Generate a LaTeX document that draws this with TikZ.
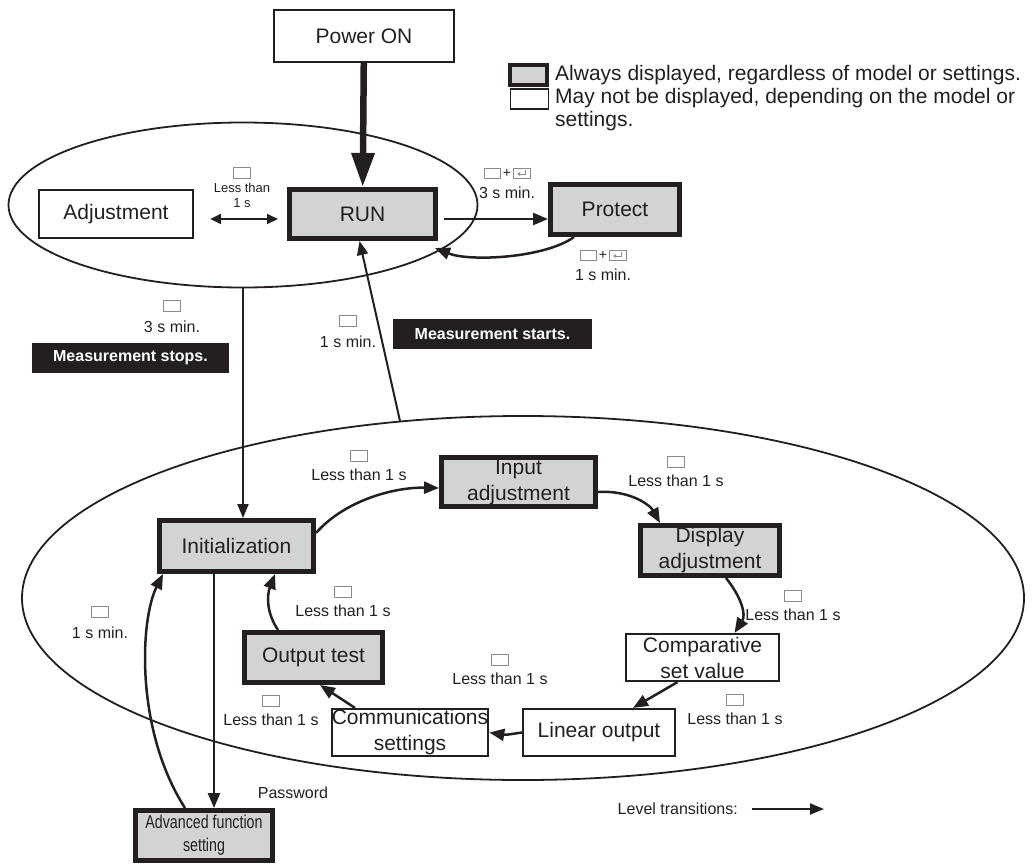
\documentclass[tikz,border=0pt]{standalone}
\usepackage{fontspec}
\setmainfont{Liberation Sans}
\newfontfamily\narrowfont[FakeStretch=0.77]{Liberation Sans}
\usetikzlibrary{positioning,arrows.meta,shapes.geometric}
\definecolor{InkDark}{HTML}{231F20}
\definecolor{PanelGray}{HTML}{D1D3D4}
\definecolor{KeyGray}{HTML}{8A8A8A}

\begin{document}
\begin{tikzpicture}[x=1pt,y=-1pt,
  every node/.style={text=InkDark},
  AL/.style={draw=InkDark, fill=PanelGray, line width=5pt, inner sep=0pt,
             align=center, font=\fontsize{21}{26}\selectfont},
  MB/.style={draw=InkDark, fill=white, line width=2.2pt, inner sep=0pt,
             align=center, font=\fontsize{21}{26}\selectfont},
  lvl/.style={draw=InkDark, ellipse, line width=1.8pt, inner sep=0pt},
  kbox/.style={draw=KeyGray, line width=0.9pt, minimum width=17pt,
               minimum height=11pt, inner sep=0pt},
  tm/.style={font=\fontsize{16}{18}\selectfont, inner sep=0pt},
  tag/.style={fill=InkDark, text=white, font=\fontsize{16}{18}\selectfont\bfseries,
              minimum width=197pt, minimum height=30pt, inner sep=0pt},
  ar/.style={draw=InkDark, line width=2.5pt, -{Triangle[length=15pt,width=12pt]}},
  ln/.style={draw=InkDark, line width=2pt, -{Triangle[length=14pt,width=11pt]}},
  keys/.pic={
    \draw[KeyGray, line width=0.9pt] (-23,-5) rectangle (-7,5);
    \node[font=\fontsize{14}{14}\selectfont, inner sep=0pt] (plus) at (0,0.5) {+};
    \draw[KeyGray, line width=0.9pt] (6,-5) rectangle (23,5);
    \draw[KeyGray, line width=0.8pt, -{Latex[length=3pt,width=4pt]}]
      (18,-3) -- (18,1) -- (10,1);
  },
]
  \useasboundingbox (0,0) rectangle (1035,864);

  % levels
  \node[lvl, minimum width=469pt, minimum height=165pt] (runlvl) at (243,205) {};
  \node[lvl, minimum width=1002pt, minimum height=364pt] (cfglvl) at (523,598) {};

  % RUN level
  \node[MB, minimum width=180pt, minimum height=52pt] (pwr) at (364,36) {Power ON};
  \node[MB, minimum width=154pt, minimum height=48pt] (adj) at (116,214) {Adjustment};
  \node[AL, minimum width=146pt, minimum height=49pt] (run) at (362.5,214) {RUN};
  \node[AL, minimum width=129pt, minimum height=50pt] (prot) at (615,209.5) {Protect};

  % legend
  \node[AL, line width=4pt, minimum width=37pt, minimum height=20pt] (legA) at (528.5,75.5) {};
  \node[MB, line width=1.5pt, minimum width=38pt, minimum height=20pt] (legB) at (529.5,99) {};
  \node[anchor=west, inner sep=0pt, font=\fontsize{21}{23}\selectfont] (legAt) at (555,75)
    {Always displayed, regardless of model or settings.};
  \node[anchor=west, inner sep=0pt, align=left, font=\fontsize{21}{23}\selectfont] (legBt) at (555,109.5)
    {May not be displayed, depending on the model or\\settings.};

  % setting level
  \node[AL, minimum width=154pt, minimum height=51pt] (init) at (236.5,546) {Initialization};
  \node[AL, minimum width=154pt, minimum height=49pt] (input) at (518.5,482) {Input\\adjustment};
  \node[AL, minimum width=139pt, minimum height=50pt] (disp) at (710,550.5) {Display\\adjustment};
  \node[MB, minimum width=153pt, minimum height=47pt] (comp) at (702.5,657.5) {Comparative\\set value};
  \node[MB, minimum width=152pt, minimum height=47pt] (lin) at (599,732.5) {Linear output};
  \node[MB, minimum width=152pt, minimum height=47pt] (comm) at (410,732.5) {Communications\\settings};
  \node[AL, minimum width=138pt, minimum height=50pt] (outt) at (313.5,657.5) {Output test};
  \node[AL, minimum width=137pt, minimum height=50pt,
        font=\narrowfont\fontsize{18.5}{23}\selectfont] (adv) at (204,835.5) {Advanced function\\setting};

  % power on
  \draw[draw=InkDark, line width=6.5pt, -{Triangle[length=34pt,width=22pt]}] (pwr) -- (run);

  % RUN level arrows
  \draw[ln, {Triangle[length=11pt,width=10pt]}-{Triangle[length=11pt,width=10pt]}]
    ([xshift=16pt,yshift=-5pt]adj.east) -- ([xshift=-9pt,yshift=-5pt]run.west);
  \draw[ar] ([xshift=6pt,yshift=-5pt]run.east) -- ([yshift=-9.5pt]prot.west);
  \draw[ar] ([xshift=-41pt]prot.south) .. controls (545,258) and (470,262)
    .. ([xshift=-3pt,yshift=-7pt]run.south east);

  \node[kbox] (kad) at (242,173) {};
  \node[font=\fontsize{13}{15}\selectfont, align=center, inner sep=0pt] (tad) at (242,195)
    {Less than\\1 s};
  \pic (kr) at (507,173) {keys};
  \node[tm] (tr) at (507,193) {3 s min.};
  \pic (kp) at (603,255) {keys};
  \node[tm] (tp) at (603,275) {1 s min.};

  % level changes
  \coordinate (cfgtop) at (400,421);
  \draw[ln] (runlvl.south) -- (runlvl.south |- init.north);
  \draw[ln] (cfgtop) -- ([xshift=-3pt]run.south);
  \node[tag] (mstop) at (130.5,357.5) {Measurement stops.};
  \node[tag, minimum width=199pt] (mstart) at (492.5,334) {Measurement starts.};

  % setting cycle
  \draw[ar] ([yshift=13pt]init.east) .. controls (345,500) and (395,487) .. ([yshift=-6pt]input.west);
  \draw[ar] ([yshift=-10pt]input.east) .. controls (630,490) and (650,505) .. ([xshift=-50pt]disp.north);
  \draw[ar] ([xshift=16pt]disp.south) .. controls (742,598) and (746,615) .. ([xshift=32pt]comp.north);
  \draw[ar] ([xshift=-25pt]comp.south) -- ([xshift=34pt]lin.north);
  \draw[ar] (lin.west) .. controls (505,735) .. (comm.east);
  \draw[ar] ([xshift=-55pt]comm.north) -- ([xshift=6.5pt]outt.south);
  \draw[ar] ([xshift=-35.5pt]outt.north) .. controls (266,612) and (267,595) .. ([xshift=38.5pt]init.south);
  \draw[ar] ([xshift=-22.5pt]init.south) -- ([xshift=10pt]adv.north);
  \draw[ar] ([xshift=-19pt]adv.north) .. controls (135,730) and (140,620) .. ([xshift=-73.5pt]init.south);

  \foreach \n/\x/\y in {ia/359/475, id/676/481, dc/793/615, cl/735/719,
                        lc/500/679, co/271/720, oi/343/611}
    {\node[kbox] (k\n) at (\x,\y-19) {};
     \node[tm] (t\n) at (\x,\y) {Less than 1 s};}
  \foreach \n/\x/\y/\v in {ms/172/327/3, mr/348/342/1, ai/100/633/1}
    {\node[kbox] (k\n) at (\x,\y-21) {};
     \node[tm] (t\n) at (\x,\y) {\v\ s min.};}
  \node[tm] (pwd) at (293,793) {Password};

  % key
  \node[tm, anchor=east] (lvltx) at (738,809) {Level transitions:};
  \coordinate (lvlend) at (824,809);
  \draw[ln] ([xshift=14pt]lvltx.east) -- (lvlend);
\end{tikzpicture}
\end{document}
